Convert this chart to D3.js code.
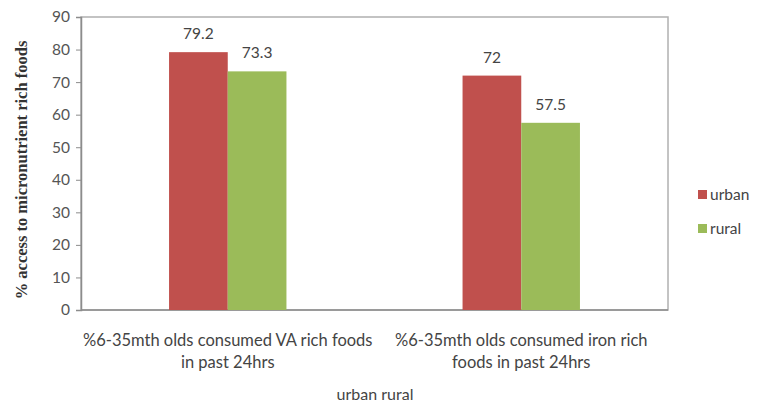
<!DOCTYPE html>
<html><head><meta charset="utf-8">
<script src="https://cdn.jsdelivr.net/npm/d3@7"></script>
<style>body{margin:0;background:#fff}</style>
</head><body>
<svg id="c" width="760" height="414"></svg>
<script>
const categories = [
  ["%6-35mth olds consumed VA rich foods", "in past 24hrs"],
  ["%6-35mth olds consumed iron rich", "foods in past 24hrs"]
];
const seriesNames = ["urban", "rural"];
const urban = [79.2, 72];
const rural = [73.3, 57.5];
const yTicks = [0,10,20,30,40,50,60,70,80,90];
const colors = ["#C0504D", "#9BBB59"];
const values = [urban, rural];

const FONT = "Lato, 'Open Sans', sans-serif";
const svg = d3.select("#c");
const m = {l:81, r:668, t:17, b:310};
const x = d3.scaleBand().domain(d3.range(categories.length)).range([m.l, m.r]).paddingInner(0).paddingOuter(0);
const y = d3.scaleLinear().domain([0,90]).range([m.b, m.t]);
const bw = x.bandwidth()*0.2;

svg.append("rect").attr("x", m.l).attr("y", m.t).attr("width", m.r-m.l).attr("height", m.b-m.t)
  .attr("fill","none").attr("stroke","#b0b0b0").attr("stroke-width",1.5);

const yAxis = svg.append("g").attr("transform", `translate(${m.l},0)`)
  .call(d3.axisLeft(y).tickValues(yTicks).tickSize(5).tickPadding(6));
yAxis.select(".domain").attr("stroke","#8c8c8c").attr("stroke-width",1.5);
yAxis.selectAll(".tick line").attr("stroke","#8c8c8c");
yAxis.selectAll("text").attr("fill","#555").style("font-family",FONT).style("font-size","15.5px");

const xAxis = svg.append("g").attr("transform", `translate(0,${m.b})`);
xAxis.append("line").attr("x1", m.l).attr("x2", m.r).attr("stroke","#8c8c8c").attr("stroke-width",1.5);

values.forEach((vals, s) => {
  svg.append("g").selectAll("rect").data(vals).join("rect")
    .attr("x", (d,i) => x(i) + x.bandwidth()/2 - bw + s*bw)
    .attr("width", bw)
    .attr("y", d => y(d))
    .attr("height", d => y(0) - y(d))
    .attr("fill", colors[s]);
  svg.append("g").selectAll("text").data(vals).join("text")
    .attr("x", (d,i) => x(i) + x.bandwidth()/2 - bw + s*bw + bw/2)
    .attr("y", d => y(d) - 13)
    .attr("text-anchor","middle")
    .attr("fill","#444")
    .style("font-family",FONT).style("font-size","15.5px")
    .text(d => d);
});

categories.forEach((lines, i) => {
  const t = svg.append("text").attr("text-anchor","middle")
    .attr("fill","#444").style("font-family",FONT).style("font-size","16.5px");
  lines.forEach((ln, k) => {
    t.append("tspan").attr("x", x(i)+x.bandwidth()/2).attr("y", 346 + k*22).text(ln);
  });
});

svg.append("text").attr("x", 375).attr("y", 400).attr("text-anchor","middle")
  .attr("fill","#444").style("font-family",FONT).style("font-size","16px")
  .text("urban rural");

svg.append("text").attr("transform", `translate(27,170) rotate(-90)`)
  .attr("text-anchor","middle").attr("fill","#333")
  .style("font-family","'Liberation Serif', serif").style("font-size","16.5px").style("font-weight","bold")
  .text("% access to micronutrient rich foods");

const leg = svg.append("g");
seriesNames.forEach((n, i) => {
  const yy = 195 + i*34;
  leg.append("rect").attr("x", 698).attr("y", yy-5).attr("width", 9).attr("height", 9).attr("fill", colors[i]);
  leg.append("text").attr("x", 710).attr("y", yy+5).attr("fill","#444")
    .style("font-family",FONT).style("font-size","15.5px").text(n);
});
</script>
</body></html>
